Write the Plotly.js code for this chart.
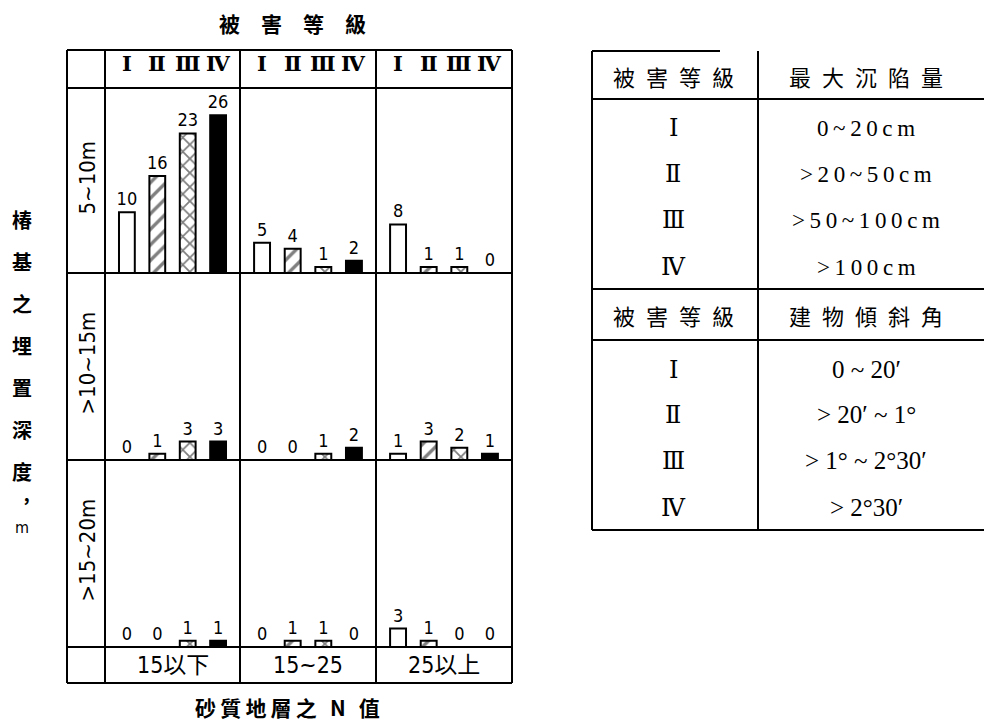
<!DOCTYPE html>
<html>
<head>
<meta charset="utf-8">
<script src="https://cdn.plot.ly/plotly-3.0.1.min.js"></script>
<style>html,body{margin:0;padding:0;background:#fff;}#chart{width:984px;height:723px;}</style>
</head>
<body>
<div id="chart"></div>
<script>
// ---------------- data ----------------
const grades = ['Ⅰ', 'Ⅱ', 'Ⅲ', 'Ⅳ'];
const nValueGroups = ['15以下', '15~25', '25以上'];
const depthLabels = ['5~10m', '>10~15m', '>15~20m'];
// counts per N-value group (15以下, 15~25, 25以上), each [Ⅰ,Ⅱ,Ⅲ,Ⅳ]
const depth5to10 = [[10, 16, 23, 26], [5, 4, 1, 2], [8, 1, 1, 0]];
const depth10to15 = [[0, 1, 3, 3], [0, 0, 1, 2], [1, 3, 2, 1]];
const depth15to20 = [[0, 0, 1, 1], [0, 1, 1, 0], [3, 1, 0, 0]];
const chartTitle = '被　害　等　級';
const xTitle = '砂質地層之 N 值';
const yTitleChars = ['椿', '基', '之', '埋', '置', '深', '度'];
const yTitleUnit = ['︐', 'm'];
// table
const tableHeadGrade = '被害等級';
const tableHeadSettle = '最大沉陷量';
const tableHeadTilt = '建物傾斜角';
const settlementValues = ['0~20cm', '>20~50cm', '>50~100cm', '>100cm'];
const tiltValues = ['0 ~ 20′', '> 20′ ~ 1°', '> 1° ~ 2°30′', '> 2°30′'];

// ---------------- layout helpers ----------------
const W = 984, H = 723;
const px = x => x / W;
const py = y => 1 - y / H;
const colEdges = [105, 240, 376, 512];
const rowEdges = [88, 273, 460, 647];
const narrow = "'Liberation Sans Narrow', 'Arial Narrow', 'DejaVu Sans Condensed', 'Noto Sans CJK TC', sans-serif";
const serif = "'Liberation Serif', 'DejaVu Serif', serif";
const cjk = "'Noto Sans CJK TC', 'Noto Sans CJK SC', sans-serif";

const allDepths = [depth5to10, depth10to15, depth15to20];
const fills = ['white', 'white', 'white', 'black'];
const patterns = ['', '/', 'x', ''];
const patternSizes = [0, 11, 10, 0];
const patternSolidity = [0, 0.3, 0.32, 0];

const traces = [];
const layout = {
  width: W, height: H,
  margin: {l: 0, r: 0, t: 0, b: 0},
  paper_bgcolor: 'white', plot_bgcolor: 'rgba(0,0,0,0)',
  showlegend: false, barmode: 'overlay',
  shapes: [], annotations: []
};

for (let r = 0; r < 3; r++) {
  for (let c = 0; c < 3; c++) {
    const k = r * 3 + c + 1;
    const sfx = k === 1 ? '' : String(k);
    const vals = allDepths[r][c];
    grades.forEach((g, i) => {
      const mk = {color: fills[i], line: {color: 'black', width: 2}};
      if (patterns[i]) mk.pattern = {shape: patterns[i], fgcolor: 'black', bgcolor: 'white',
        size: patternSizes[i], solidity: patternSolidity[i], fillmode: 'overlay'};
      traces.push({
        type: 'bar', x: [g], y: [vals[i]],
        xaxis: 'x' + sfx, yaxis: 'y' + sfx,
        width: 0.52,
        marker: mk,
        text: [String(vals[i])], textposition: 'outside', textangle: 0,
        constraintext: 'none', cliponaxis: false,
        textfont: {family: narrow, size: 18, color: 'black'},
        hoverinfo: 'skip', showlegend: false
      });
    });
    layout['xaxis' + sfx] = {
      domain: [px(colEdges[c]), px(colEdges[c + 1])],
      anchor: 'y' + sfx, type: 'category', categoryorder: 'array', categoryarray: grades,
      range: [-0.72, 3.72],
      showticklabels: false, showgrid: false, zeroline: false, showline: false, ticks: '', fixedrange: true
    };
    layout['yaxis' + sfx] = {
      domain: [py(rowEdges[r + 1]), py(rowEdges[r])],
      anchor: 'x' + sfx, range: [0, 30.5],
      showticklabels: false, showgrid: false, zeroline: false, showline: false, ticks: '', fixedrange: true
    };
  }
}

function line(x0, y0, x1, y1, w) {
  layout.shapes.push({type: 'line', xref: 'paper', yref: 'paper',
    x0: px(x0), y0: py(y0), x1: px(x1), y1: py(y1), line: {color: 'black', width: w || 2}});
}
function ann(x, y, text, font, extra) {
  layout.annotations.push(Object.assign({xref: 'paper', yref: 'paper', x: px(x), y: py(y), text: text,
    showarrow: false, xanchor: 'center', yanchor: 'middle', font: Object.assign({color: 'black'}, font)}, extra || {}));
}
// grid lines (main chart)
[50, 88, 273, 460, 647, 683].forEach(y => line(67, y, 512, y));
[67, 105, 240, 376, 512].forEach(x => line(x, 50, x, 683));

// header roman numerals (on each column's x scale) and footer groups
for (let c = 0; c < 3; c++) {
  const sfx = c === 0 ? '' : String(c + 1);
  grades.forEach((g, i) => {
    layout.annotations.push({xref: 'x' + sfx, yref: 'paper', x: i, y: py(64), xanchor: 'center', yanchor: 'middle',
      text: g, showarrow: false, font: {family: serif, size: 21, color: 'black', weight: 'bold'}});
  });
  ann((colEdges[c] + colEdges[c + 1]) / 2, 665, nValueGroups[c], {family: narrow, size: 23});
}
// row labels
depthLabels.forEach((d, r) => {
  ann(87, (rowEdges[r] + rowEdges[r + 1]) / 2 - 3, d, {family: narrow, size: 22}, {textangle: -90});
});
// titles
ann(292, 23, chartTitle, {family: cjk, size: 21, weight: 'bold'});
ann(287, 707, xTitle.split('').join('\u2009'), {family: cjk, size: 21, weight: 'bold'});
yTitleChars.forEach((ch, i) => ann(22, 219 + i * 42, ch, {family: cjk, size: 20, weight: 'bold'}));
ann(22, 506, yTitleUnit[0], {family: cjk, size: 18, weight: 'bold'});
ann(22, 527, yTitleUnit[1], {family: narrow, size: 16});

// ---------------- table ----------------
line(592, 51, 720, 51);
[99, 289, 340, 530].forEach(y => line(592, y, 984, y));
line(592, 51, 592, 530);
line(758, 51, 758, 530);
const spaced = s => s.split('').join('\u2002');
const thin = s => s.split('').join('\u2009');
const tcol1 = 673, tcol2 = 866;
ann(tcol1, 76, spaced(tableHeadGrade), {family: cjk, size: 22});
ann(tcol2, 76, spaced(tableHeadSettle), {family: cjk, size: 22});
ann(tcol1, 315, spaced(tableHeadGrade), {family: cjk, size: 22});
ann(tcol2, 315, spaced(tableHeadTilt), {family: cjk, size: 22});
const rowY1 = [128, 174, 220, 267];
const rowY2 = [370, 415, 461, 508];
grades.forEach((g, i) => {
  ann(tcol1, rowY1[i], g, {family: serif, size: 24});
  ann(tcol2, rowY1[i], thin(settlementValues[i]), {family: serif, size: 23});
  ann(tcol1, rowY2[i], g, {family: serif, size: 24});
  ann(tcol2, rowY2[i], tiltValues[i], {family: serif, size: 25});
});

Plotly.newPlot('chart', traces, layout, {displayModeBar: false});
</script>
</body>
</html>
